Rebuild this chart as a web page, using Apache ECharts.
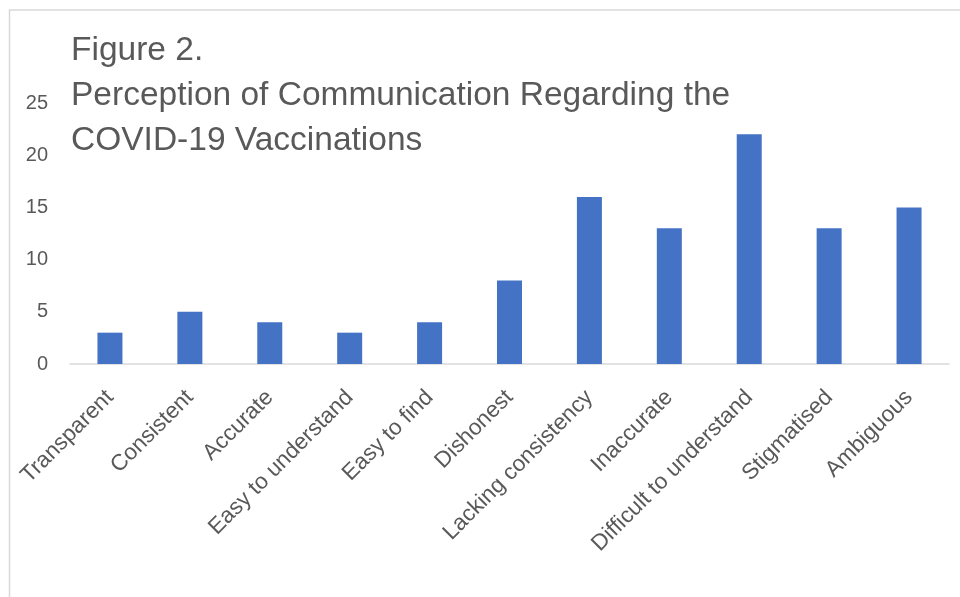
<!DOCTYPE html>
<html>
<head>
<meta charset="utf-8">
<script src="https://cdn.jsdelivr.net/npm/echarts@6/dist/echarts.min.js"></script>
<style>
  html, body { margin: 0; padding: 0; background: #fff; }
  #chart { width: 960px; height: 597px; }
</style>
</head>
<body>
<div id="chart"></div>
<script>
// Survey responses: how communication about COVID-19 vaccinations was perceived
const categories = [
  'Transparent', 'Consistent', 'Accurate', 'Easy to understand', 'Easy to find',
  'Dishonest', 'Lacking consistency', 'Inaccurate', 'Difficult to understand',
  'Stigmatised', 'Ambiguous'
];
const counts = [3, 5, 4, 3, 4, 8, 16, 13, 22, 13, 15];
const titleLines = [
  'Figure 2.',
  'Perception of Communication Regarding the',
  'COVID-19 Vaccinations'
];

const textColor = '#595959';
const font = '"Liberation Sans", Arial, sans-serif';

const chart = echarts.init(document.getElementById('chart'), null, { renderer: 'canvas' });
chart.setOption({
  animation: false,
  backgroundColor: '#ffffff',
  graphic: [{
    type: 'rect',
    shape: { x: 9.5, y: 10, width: 1000, height: 700 },
    style: { fill: 'none', stroke: '#d9d9d9', lineWidth: 1.5 },
    silent: true,
    z: -1
  }],
  title: {
    text: titleLines.join('\n'),
    left: 66,
    top: 23,
    textStyle: {
      color: textColor,
      fontFamily: font,
      fontSize: 33.5,
      fontWeight: 'normal',
      lineHeight: 45
    }
  },
  grid: { left: 70, right: 11, top: 103, bottom: 233, containLabel: false },
  xAxis: {
    type: 'category',
    data: categories,
    axisLine: { lineStyle: { color: '#d9d9d9', width: 1.5 } },
    axisTick: { show: false },
    axisLabel: {
      rotate: 45,
      interval: 0,
      margin: 30,
      color: textColor,
      fontFamily: font,
      fontSize: 22.5
    }
  },
  yAxis: {
    type: 'value',
    min: 0,
    max: 25,
    interval: 5,
    splitLine: { show: false },
    axisLine: { show: false },
    axisTick: { show: false },
    axisLabel: {
      margin: 22,
      color: textColor,
      fontFamily: font,
      fontSize: 20
    }
  },
  series: [{
    type: 'bar',
    data: counts,
    barWidth: 25,
    itemStyle: { color: '#4472c4' }
  }]
});
</script>
</body>
</html>
